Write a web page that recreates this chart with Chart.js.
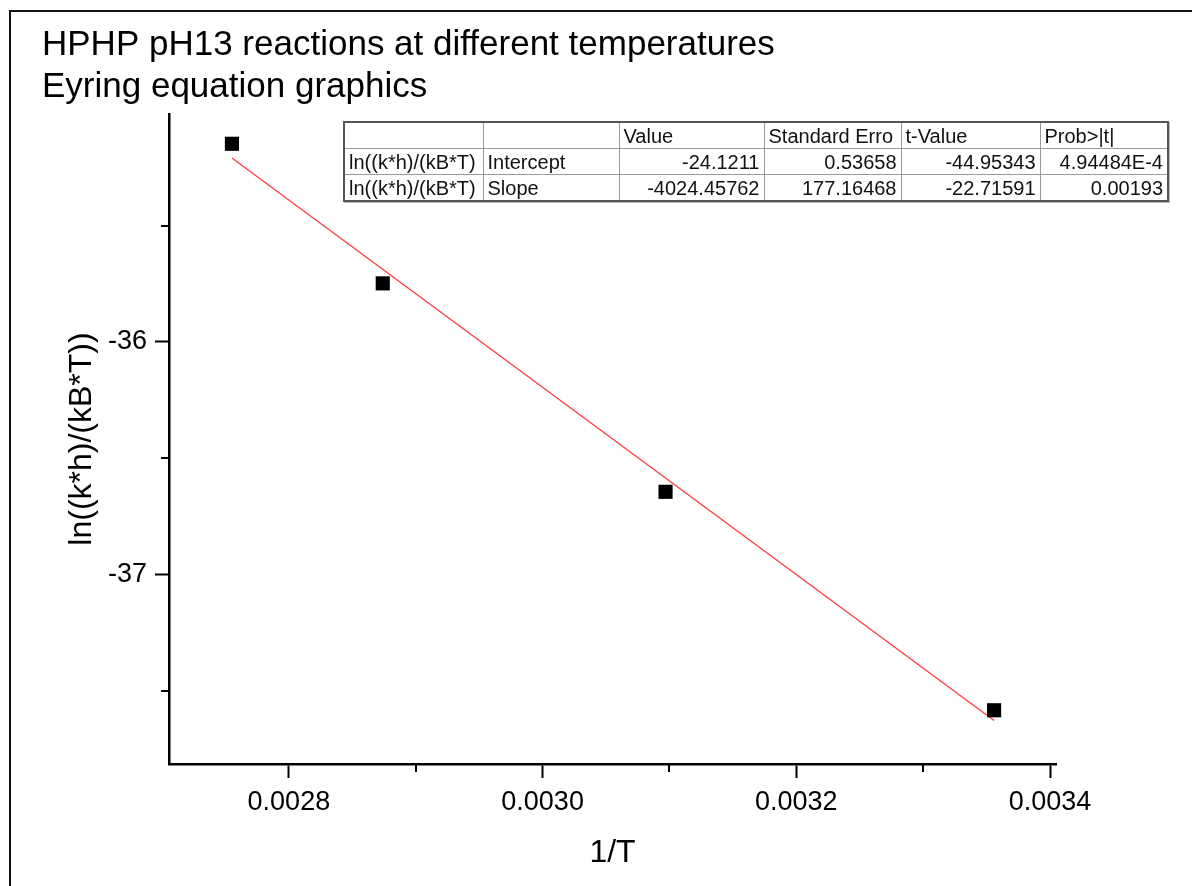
<!DOCTYPE html>
<html>
<head>
<meta charset="utf-8">
<script src="https://cdn.jsdelivr.net/npm/chart.js@4.4.1/dist/chart.umd.min.js"></script>
<style>
  html, body { margin: 0; padding: 0; background: #fff; }
  body { width: 1192px; height: 886px; overflow: hidden; position: relative; font-family: Arial, "Liberation Sans", sans-serif; }
  #frame { position: absolute; left: 9px; top: 10px; width: 1300px; height: 1000px; border: 2px solid #111; box-sizing: border-box; }
  #wrap { position: absolute; left: 0; top: 0; width: 1192px; height: 886px; }
  #tbl { position: absolute; left: 343px; top: 121px; border-collapse: collapse; table-layout: fixed; width: 824px;
         font-size: 20px; color: #111; border: 2px solid #555; box-shadow: 1px 1px 0 #bbb; }
  #tbl td { border: 1px solid #9a9a9a; padding: 0 4px; height: 25px; line-height: 24px; white-space: nowrap; overflow: hidden; }
  #tbl td.num { text-align: right; }
</style>
</head>
<body>
<div id="frame"></div>
<div id="wrap"><canvas id="c" width="1192" height="886"></canvas></div>
<table id="tbl"></table>
<script>
// ---- data ----
const invT = [0.0027551, 0.0028740, 0.0030969, 0.0033559];
const lnRate = [-35.148, -35.748, -36.644, -37.583];
const fitInvT = [0.0027551, 0.0033559];
const fitLnRate = [-35.209, -37.627];

const xRange = [0.0027055, 0.0034047];
const yRange = [-37.814, -35.02];
const xMajorTicks = [0.0028, 0.0030, 0.0032, 0.0034];
const xTickLabels = ['0.0028', '0.0030', '0.0032', '0.0034'];
const xMinorTicks = [0.0029, 0.0031, 0.0033];
const yMajorTicks = [-36, -37];
const yTickLabels = ['-36', '-37'];
const yMinorTicks = [-35.5, -36.5, -37.5];

const titleLines = ['HPHP pH13 reactions at different temperatures', 'Eyring equation graphics'];
const xTitle = '1/T';
const yTitle = 'ln((k*h)/(kB*T))';

const tableHeader = ['', '', 'Value', 'Standard Erro', 't-Value', 'Prob>|t|'];
const tableRowLabels = ['ln((k*h)/(kB*T)', 'ln((k*h)/(kB*T)'];
const tableParams = ['Intercept', 'Slope'];
const tableValues = ['-24.1211', '-4024.45762'];
const tableStdErr = ['0.53658', '177.16468'];
const tableTValues = ['-44.95343', '-22.71591'];
const tableProb = ['4.94484E-4', '0.00193'];
const tableColWidths = [139, 136, 145, 137, 139, 128];

// ---- table ----
const tbl = document.getElementById('tbl');
const cg = document.createElement('colgroup');
tableColWidths.forEach(w => { const c = document.createElement('col'); c.style.width = w + 'px'; cg.appendChild(c); });
tbl.appendChild(cg);
function addRow(cells, numFrom) {
  const tr = document.createElement('tr');
  cells.forEach((t, i) => {
    const td = document.createElement('td');
    td.textContent = t;
    if (numFrom !== null && i >= numFrom) td.className = 'num';
    tr.appendChild(td);
  });
  tbl.appendChild(tr);
}
addRow(tableHeader, null);
tableParams.forEach((p, i) => addRow([tableRowLabels[i], p, tableValues[i], tableStdErr[i], tableTValues[i], tableProb[i]], 2));

// ---- chart ----
const FONT = 'Arial, "Liberation Sans", sans-serif';

const minorTicks = {
  id: 'minorTicks',
  afterDraw(chart) {
    const ctx = chart.ctx, x = chart.scales.x, y = chart.scales.y, a = chart.chartArea;
    ctx.save();
    ctx.strokeStyle = '#000';
    ctx.lineWidth = 2;
    ctx.beginPath();
    xMinorTicks.forEach(v => { const p = Math.round(x.getPixelForValue(v)); ctx.moveTo(p, a.bottom); ctx.lineTo(p, a.bottom + 8); });
    yMinorTicks.forEach(v => { const p = Math.round(y.getPixelForValue(v)); ctx.moveTo(a.left - 8, p); ctx.lineTo(a.left, p); });
    ctx.stroke();
    ctx.restore();
  }
};

new Chart(document.getElementById('c'), {
  type: 'scatter',
  data: {
    datasets: [
      {
        label: 'data',
        data: invT.map((v, i) => ({ x: v, y: lnRate[i] })),
        pointStyle: 'rect', pointRadius: 10, pointHoverRadius: 10,
        backgroundColor: '#000', borderColor: '#000', borderWidth: 0,
        showLine: false, order: 0
      },
      {
        label: 'fit',
        data: fitInvT.map((v, i) => ({ x: v, y: fitLnRate[i] })),
        showLine: true, pointRadius: 0, pointHoverRadius: 0,
        borderColor: '#ff3b3b', borderWidth: 1.3, order: 1
      }
    ]
  },
  options: {
    responsive: false, animation: false, devicePixelRatio: 1,
    layout: { padding: { left: 42, right: 136, top: 0, bottom: 0 } },
    plugins: {
      legend: { display: false },
      tooltip: { enabled: false },
      title: {
        display: true, text: titleLines, align: 'start', color: '#000',
        font: { family: FONT, size: 35, weight: 'normal', lineHeight: '42px' },
        padding: { top: 24, bottom: 6 }
      }
    },
    scales: {
      x: {
        type: 'linear', position: 'bottom', min: xRange[0], max: xRange[1],
        afterBuildTicks: s => { s.ticks = xMajorTicks.map(v => ({ value: v })); },
        afterFit: s => { s.height = 122; },
        ticks: { callback: (v, i) => xTickLabels[i], color: '#000', font: { family: FONT, size: 27 }, padding: 8, maxRotation: 0, autoSkip: false },
        grid: { display: true, drawOnChartArea: false, drawTicks: true, tickLength: 14, tickWidth: 2, tickColor: '#000' },
        border: { display: true, color: '#000', width: 2.5 },
        title: { display: true, text: xTitle, color: '#000', font: { family: FONT, size: 32 }, padding: { top: 0, bottom: 14 } }
      },
      y: {
        type: 'linear', position: 'left', min: yRange[0], max: yRange[1],
        afterBuildTicks: s => { s.ticks = yMajorTicks.map(v => ({ value: v })); },
        afterFit: s => { s.width = 127; },
        ticks: { callback: (v, i) => yTickLabels[i], color: '#000', font: { family: FONT, size: 27 }, padding: 8, autoSkip: false },
        grid: { display: true, drawOnChartArea: false, drawTicks: true, tickLength: 14, tickWidth: 2, tickColor: '#000' },
        border: { display: true, color: '#000', width: 2.5 },
        title: { display: true, text: yTitle, color: '#000', font: { family: FONT, size: 32 }, padding: { top: 21, bottom: 0 } }
      }
    }
  },
  plugins: [minorTicks]
});
</script>
</body>
</html>
